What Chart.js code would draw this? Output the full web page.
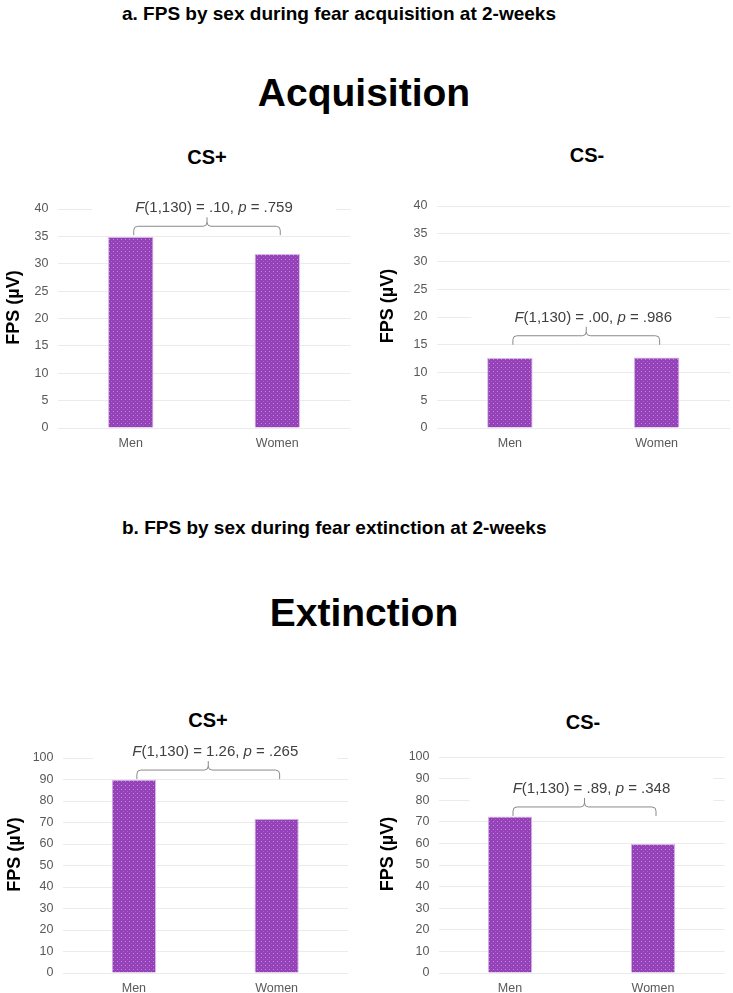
<!DOCTYPE html>
<html>
<head>
<meta charset="utf-8">
<script src="https://cdn.jsdelivr.net/npm/chart.js@4.4.1/dist/chart.umd.min.js"></script>
<style>
    body { margin: 0; background: #fff; width: 733px; height: 993px; position: relative; overflow: hidden; font-family: "Liberation Sans", Arial, sans-serif; }
    .t { position: absolute; white-space: nowrap; font-weight: bold; color: #000; line-height: 1; }
    .c { transform: translateX(-50%); }
    canvas { position: absolute; }
</style>
</head>
<body>
<div class="t" style="left:122px; top:4px; font-size:19px;">a. FPS by sex during fear acquisition at 2-weeks</div>
<div class="t c" style="left:364px; top:73px; font-size:39px;">Acquisition</div>
<div class="t" style="left:122px; top:518px; font-size:19px;">b. FPS by sex during fear extinction at 2-weeks</div>
<div class="t c" style="left:364px; top:593px; font-size:39px;">Extinction</div>

<div class="t c" style="left:207px; top:147px; font-size:20px;">CS+</div>
<div class="t c" style="left:587px; top:145px; font-size:20px;">CS-</div>
<div class="t c" style="left:208px; top:710px; font-size:20px;">CS+</div>
<div class="t c" style="left:583px; top:712px; font-size:20px;">CS-</div>

<canvas id="accPlus" width="365" height="330" style="left:0; top:130px;"></canvas>
<canvas id="accMinus" width="365" height="330" style="left:368px; top:130px;"></canvas>
<canvas id="extPlus" width="365" height="313" style="left:0; top:680px;"></canvas>
<canvas id="extMinus" width="365" height="313" style="left:368px; top:680px;"></canvas>

<script>
// data
const sexes = ['Men', 'Women'];
const acqCsPlus = [34.9, 31.8];
const acqCsMinus = [12.6, 12.7];
const extCsPlus = [89.9, 71.8];
const extCsMinus = [72.4, 59.7];

const acqAxis = { max: 40, step: 5 };
const extAxis = { max: 100, step: 10 };

// F test text and where the bracket ends sit (in FPS units)
const statF = ['.10', '.00', '1.26', '.89'];
const statP = ['.759', '.986', '.265', '.348'];
const bracketAt = [35.2, 15.0, 90.2, 72.7];

const yTitle = 'FPS (\u00b5V)';

// dotted purple fill like the excel pattern
function dotPattern() {
    const tile = document.createElement('canvas');
    tile.width = 4; tile.height = 4;
    const c = tile.getContext('2d');
    c.fillStyle = '#9542b8';
    c.fillRect(0, 0, 4, 4);
    c.fillStyle = '#c088da';
    c.fillRect(1, 1, 1, 1);
    c.fillStyle = '#aa62ca';
    c.fillRect(3, 3, 1, 1);
    return tile.getContext('2d').createPattern(tile, 'repeat');
}

const statBrace = {
    id: 'statBrace',
    afterDatasetsDraw(chart, args, opts) {
        const { ctx, scales: { x, y }, chartArea } = chart;
        const x1 = x.getPixelForValue(0) + 3;
        const x2 = x.getPixelForValue(1) + 3;
        const yEnd = y.getPixelForValue(opts.at);
        const yLine = yEnd - 9, yTip = yEnd - 18, yText = yEnd - 27;
        const mid = (x1 + x2) / 2;
        const r = 4;

        ctx.save();
        // white text box hides the gridlines behind the label
        const tx = mid + 7;
        ctx.fillStyle = '#fff';
        ctx.fillRect(tx - 122, yText - 15, 244, 32);

        ctx.strokeStyle = '#8a8a8a';
        ctx.lineWidth = 1;
        ctx.beginPath();
        ctx.moveTo(x1, yEnd);
        ctx.arcTo(x1, yLine, x1 + r, yLine, r);
        ctx.lineTo(mid - r, yLine);
        ctx.arcTo(mid, yLine, mid, yLine - r, r);
        ctx.lineTo(mid, yTip);
        ctx.moveTo(mid, yLine - r);
        ctx.arcTo(mid, yLine, mid + r, yLine, r);
        ctx.lineTo(x2 - r, yLine);
        ctx.arcTo(x2, yLine, x2, yLine + r, r);
        ctx.lineTo(x2, yEnd);
        ctx.stroke();

        const parts = [
            ['F', true], ['(1,130) = ' + opts.f + ', ', false], ['p', true], [' = ' + opts.p, false]
        ];
        const fontFor = it => (it ? 'italic ' : '') + '15px "Liberation Sans", Arial, sans-serif';
        let total = 0;
        parts.forEach(pt => { ctx.font = fontFor(pt[1]); total += ctx.measureText(pt[0]).width; });
        let cx = tx - total / 2;
        ctx.fillStyle = '#404040';
        ctx.textBaseline = 'middle';
        ctx.textAlign = 'left';
        parts.forEach(pt => {
            ctx.font = fontFor(pt[1]);
            ctx.fillText(pt[0], cx, yText);
            cx += ctx.measureText(pt[0]).width;
        });

        // y axis title
        ctx.translate(opts.titleX, (chartArea.top + chartArea.bottom) / 2 - 11);
        ctx.rotate(-Math.PI / 2);
        ctx.font = 'bold 18px "Liberation Sans", Arial, sans-serif';
        ctx.fillStyle = '#000';
        ctx.textAlign = 'center';
        ctx.fillText(yTitle, 0, 0);
        ctx.restore();
    }
};

function makeChart(id, values, axis, idx, box) {
    const el = document.getElementById(id);
    const canvasLeft = parseFloat(el.style.left);
    const canvasTop = parseFloat(el.style.top);
    new Chart(el, {
        type: 'bar',
        data: {
            labels: sexes,
            datasets: [{
                data: values,
                backgroundColor: dotPattern(),
                borderColor: '#d7b6e6',
                borderWidth: 1,
                barPercentage: 0.31,
                categoryPercentage: 1
            }]
        },
        options: {
            responsive: false,
            animation: false,
            layout: {
                padding: {
                    left: 0,
                    top: box.top - canvasTop,
                    right: canvasLeft + el.width - box.right,
                    bottom: 0
                }
            },
            plugins: {
                legend: { display: false },
                tooltip: { enabled: false },
                statBrace: {
                    f: statF[idx], p: statP[idx], at: bracketAt[idx],
                    titleX: box.titleX - canvasLeft
                }
            },
            scales: {
                x: {
                    grid: { display: false, drawTicks: false },
                    border: { display: false },
                    ticks: { color: '#595959', font: { size: 12.5, family: '"Liberation Sans", Arial' }, padding: 8 },
                    afterFit: s => { s.height = canvasTop + el.height - box.bottom; }
                },
                y: {
                    min: 0,
                    max: axis.max,
                    grid: { color: '#ebebeb', drawTicks: false },
                    border: { display: false },
                    ticks: { stepSize: axis.step, color: '#595959', font: { size: 12.5, family: '"Liberation Sans", Arial' }, padding: 9 },
                    afterFit: s => { s.width = box.left - canvasLeft; }
                }
            }
        },
        plugins: [statBrace]
    });
}

document.addEventListener('DOMContentLoaded', () => {
    makeChart('accPlus', acqCsPlus, acqAxis, 0, { left: 57.5, right: 350.5, top: 209, bottom: 428, titleX: 14 });
    makeChart('accMinus', acqCsMinus, acqAxis, 1, { left: 436.5, right: 730, top: 206, bottom: 428, titleX: 388 });
    makeChart('extPlus', extCsPlus, extAxis, 2, { left: 62.5, right: 348, top: 758, bottom: 973, titleX: 15 });
    makeChart('extMinus', extCsMinus, extAxis, 3, { left: 438.5, right: 724.5, top: 757, bottom: 973, titleX: 388 });
});
</script>
</body>
</html>
